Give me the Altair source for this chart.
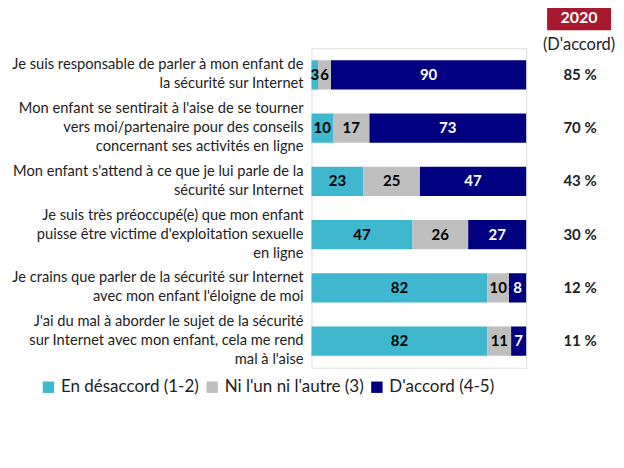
import altair as alt
import pandas as pd

qids = ["q1", "q2", "q3", "q4", "q5", "q6"]
labels = [
    "Je suis responsable de parler à mon enfant de\nla sécurité sur Internet",
    "Mon enfant se sentirait à l'aise de se tourner\nvers moi/partenaire pour des conseils\nconcernant ses activités en ligne",
    "Mon enfant s'attend à ce que je lui parle de la\nsécurité sur Internet",
    "Je suis très préoccupé(e) que mon enfant\npuisse être victime d'exploitation sexuelle\nen ligne",
    "Je crains que parler de la sécurité sur Internet\navec mon enfant l'éloigne de moi",
    "J'ai du mal à aborder le sujet de la sécurité\nsur Internet avec mon enfant, cela me rend\nmal à l'aise",
]
cats = ["En désaccord (1-2)", "Ni l'un ni l'autre (3)", "D'accord (4-5)"]
colors = ["#3FB7CE", "#BFBFBF", "#000080"]
disagree = [3, 10, 23, 47, 82, 82]
neutral = [6, 17, 25, 26, 10, 11]
agree = [90, 73, 47, 27, 8, 7]
pct2020 = ["85 %", "70 %", "43 %", "30 %", "12 %", "11 %"]
header_year = "2020"
header_sub = "(D'accord)"

rows = []
for i, q in enumerate(qids):
    for j, (c, vals) in enumerate(zip(cats, [disagree, neutral, agree])):
        rows.append({"qid": q, "cat": c, "ord": j, "value": vals[i]})
df = pd.DataFrame(rows)
lab_df = pd.DataFrame({"qid": qids, "label": labels, "pct": pct2020,
                       "nlines": [len(l.split("\n")) for l in labels]})

FONT = "Lato"
LH = 19
yenc = alt.Y("qid:N", sort=qids, axis=None,
             scale=alt.Scale(paddingInner=0.45, paddingOuter=0.225))

bars = alt.Chart(df).mark_bar().encode(
    y=yenc,
    x=alt.X("value:Q", stack="normalize", axis=None,
            scale=alt.Scale(domain=[0, 1], nice=False)),
    color=alt.Color("cat:N", sort=cats,
                    scale=alt.Scale(domain=cats, range=colors),
                    legend=alt.Legend(title=None, orient="none", direction="horizontal",
                                      legendX=-272, legendY=331,
                                      symbolType="square", symbolSize=130,
                                      symbolStrokeWidth=0, labelFont=FONT,
                                      labelFontSize=17, labelColor="#222222",
                                      columnPadding=4, gridAlign="none",
                                      symbolOffset=0, labelOffset=4)),
    order=alt.Order("ord:Q"),
)

vals = alt.Chart(df).transform_stack(
    stack="value", as_=["x0", "x1"], groupby=["qid"],
    sort=[alt.SortField("ord")], offset="normalize"
).transform_calculate(mid="(datum.x0 + datum.x1) / 2").mark_text(
    font=FONT, fontSize=15, fontWeight="bold", baseline="middle", align="center"
).encode(
    y=yenc,
    x=alt.X("mid:Q", axis=None, scale=alt.Scale(domain=[0, 1], nice=False)),
    text="value:Q",
    color=alt.condition(alt.datum.ord == 2, alt.value("white"), alt.value("black")),
)

def left_layer(n):
    return alt.Chart(lab_df).transform_filter(alt.datum.nlines == n).mark_text(
        font=FONT, fontSize=14.7, align="right", baseline="middle",
        lineBreak="\n", lineHeight=LH, color="#222222", dy=-(n - 1) * LH / 2
    ).encode(y=yenc, x=alt.value(-8), text="label:N")

left2 = left_layer(2)
left3 = left_layer(3)

right = alt.Chart(lab_df).mark_text(
    font=FONT, fontSize=15, fontWeight="bold", align="center", baseline="middle",
    color="#222222"
).encode(y=yenc, x=alt.value(269), text="pct:N")

hdr_df = pd.DataFrame({"year": [header_year], "sub": [header_sub]})
hdr_rect = alt.Chart(hdr_df).mark_rect(color="#A6192E").encode(
    x=alt.value(236), x2=alt.value(300), y=alt.value(-43), y2=alt.value(-18))
hdr_text = alt.Chart(hdr_df).mark_text(
    font=FONT, fontSize=16, fontWeight="bold", color="white", baseline="middle"
).encode(x=alt.value(268), y=alt.value(-30), text="year:N")
hdr_sub = alt.Chart(hdr_df).mark_text(
    font=FONT, fontSize=16.5, color="#222222", baseline="middle"
).encode(x=alt.value(268), y=alt.value(-3), text="sub:N")

chart = alt.layer(bars, vals, left2, left3, right, hdr_rect, hdr_text, hdr_sub).properties(
    width=215, height=320,
    autosize=alt.AutoSizeParams(type="none"),
    padding={"left": 304, "top": 40, "right": 90, "bottom": 60},
).configure_view(stroke=None).configure(background="white")

chart.save("out.html", embed_options={"renderer": "svg", "actions": False})
